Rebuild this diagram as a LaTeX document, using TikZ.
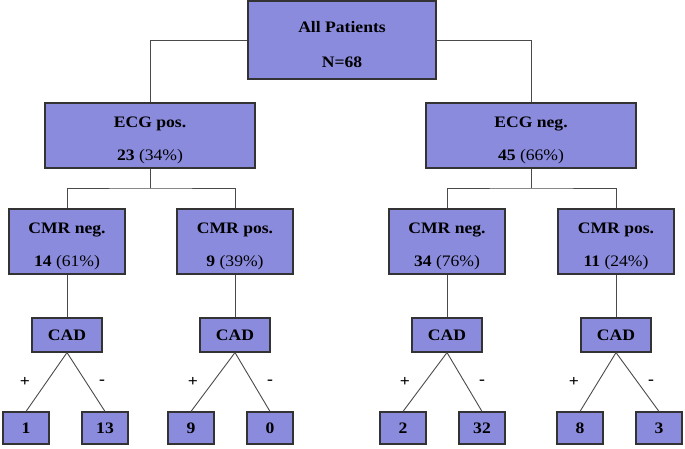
\documentclass[tikz,border=0pt]{standalone}
\usepackage{fontspec}
\setmainfont{Liberation Serif}[FakeStretch=1.1]
\usepackage{tikz}
\usetikzlibrary{positioning}
\definecolor{boxblue}{HTML}{8B8BDE}
\definecolor{edgegray}{HTML}{4A4A4A}
\newcommand{\lowstrut}{\rule{0pt}{21pt}}

\tikzset{
  box/.style={draw=black!80, fill=boxblue, line width=1.1pt, inner sep=0pt,
    align=center, font=\fontsize{16}{33}\selectfont\bfseries},
  groupbox/.style={box, minimum width=210pt, minimum height=65pt},
  cmrbox/.style={box, minimum width=116pt, minimum height=65pt},
  cadbox/.style={box, minimum width=70pt, minimum height=34pt},
  leafbox/.style={box, minimum width=46pt, minimum height=32pt},
  signlabel/.style={font=\fontsize{16}{18}\selectfont\bfseries, inner sep=0pt},
  conn/.style={draw=edgegray, line width=0.9pt}
}

\begin{document}
\begin{tikzpicture}[x=1pt,y=-1pt]
  \useasboundingbox (0,0) rectangle (685,448);

  % root and first split
  \node[box, minimum width=188pt, minimum height=78pt] (all) at (342,40)
    {\lowstrut All Patients\\[2pt] N=68};
  \node[groupbox] (ecgpos) at (150,135.5) {\lowstrut ECG pos.\\ 23 {\mdseries(34\%)}};
  \node[groupbox] (ecgneg) at (531,135.5) {\lowstrut ECG neg.\\ 45 {\mdseries(66\%)}};
  \draw[conn] (all.west) -| (ecgpos.north);
  \draw[conn] (all.east) -| (ecgneg.north);

  % CMR level
  \node[cmrbox] (cmr1) at (67,241.5) {\lowstrut CMR neg.\\ 14 {\mdseries(61\%)}};
  \node[cmrbox] (cmr2) at (235,241.5) {\lowstrut CMR pos.\\ 9 {\mdseries(39\%)}};
  \node[cmrbox] (cmr3) at (447,241.5) {\lowstrut CMR neg.\\ 34 {\mdseries(76\%)}};
  \node[cmrbox] (cmr4) at (616,241.5) {\lowstrut CMR pos.\\ 11 {\mdseries(24\%)}};
  \coordinate (splitpos) at (150,188);
  \coordinate (splitneg) at (531,188);
  \draw[conn] (ecgpos.south) -- (splitpos);
  \draw[conn] (cmr1.north) |- (splitpos) -| (cmr2.north);
  \draw[conn] (ecgneg.south) -- (splitneg);
  \draw[conn] (cmr3.north) |- (splitneg) -| (cmr4.north);

  % CAD outcome per branch
  \foreach \i/\x/\yes/\yeslab/\nolab in {1/67/26/1/13, 2/235/191/9/0,
      3/447/403/2/32, 4/616/580/8/3}{
    \node[cadbox] (cad\i) at (\x,335) {CAD};
    \node[leafbox] (yes\i) at (\yes,428) {\yeslab};
    \node[leafbox] (no\i) at (\yes+79,428) {\nolab};
    \node[signlabel] (plus\i) at (\x-42,382) {+};
    \node[signlabel] (minus\i) at (\x+35,382) {-};
    \draw[conn] (cmr\i.south) -- (cad\i.north);
    \draw[conn] (cad\i.south) -- (yes\i.north);
    \draw[conn] (cad\i.south) -- (no\i.north);
  }
\end{tikzpicture}
\end{document}
